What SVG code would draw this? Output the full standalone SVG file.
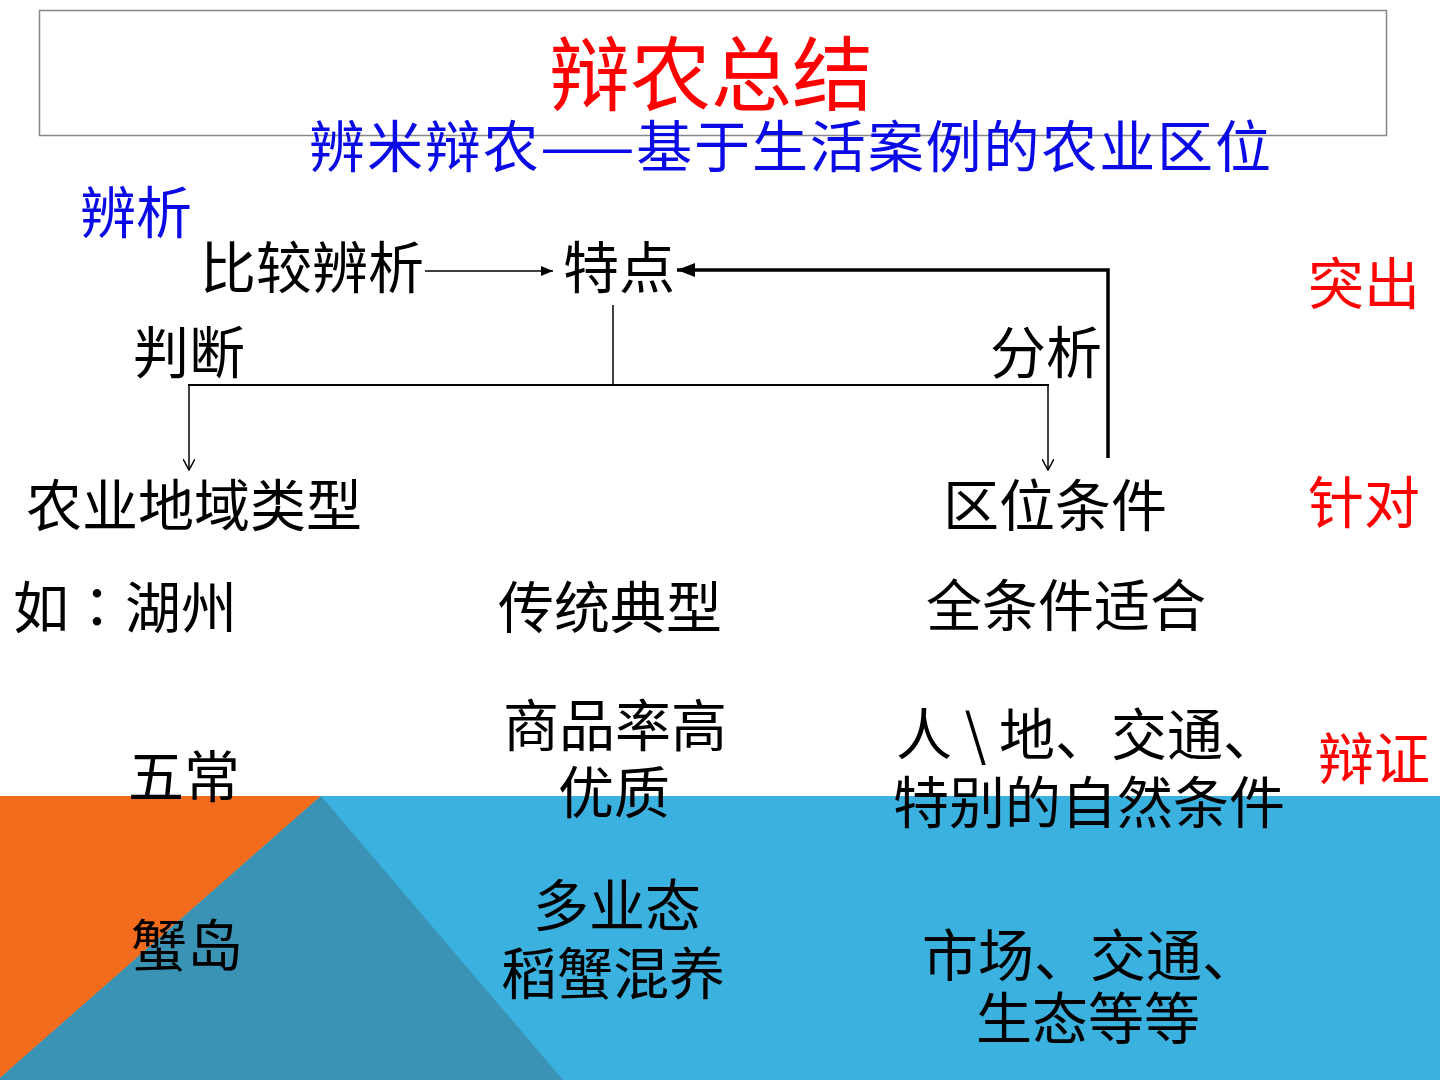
<svg xmlns="http://www.w3.org/2000/svg" width="1440" height="1080" viewBox="0 0 1440 1080">
<style>
text{font-family:"Noto Sans CJK SC","Noto Sans",sans-serif;font-size:56px;fill:#000}
.red{fill:#ff0000}
.blue{fill:#0a0ae6}
.thin{stroke:#000;stroke-width:1.5;fill:none}
.mid{stroke:#000;stroke-width:2.2;fill:none}
.thick{stroke:#000;stroke-width:3.5;fill:none}
.jp{font-family:"Noto Sans CJK JP",sans-serif}
</style>
<defs>
<marker id="fill" markerWidth="12" markerHeight="10" refX="12" refY="5" orient="auto" markerUnits="userSpaceOnUse">
<path d="M0,0 L12,5 L0,10 Z" fill="#000"/>
</marker>
<marker id="big" markerWidth="18" markerHeight="14" refX="18" refY="7" orient="auto" markerUnits="userSpaceOnUse">
<path d="M0,0 L18,7 L0,14 Z" fill="#000"/>
</marker>
<marker id="open" markerWidth="12" markerHeight="12" refX="11" refY="6" orient="auto" markerUnits="userSpaceOnUse">
<path d="M0,0 L11,6 L0,12" fill="none" stroke="#000" stroke-width="1.5"/>
</marker>
</defs>
<rect width="1440" height="1080" fill="#fff"/>
<g id="background">
<rect x="0" y="796" width="1440" height="284" fill="#3bb1df"/>
<polygon points="0,796 321,796 0,1078" fill="#f36b1c"/>
<polygon points="321,796 563,1080 0,1080 0,1078" fill="#3a93b4"/>
</g>
<g id="title-box">
<rect x="39.5" y="10.5" width="1347" height="125" fill="none" stroke="#888" stroke-width="1.5"/>
<text x="549" y="104" class="red" style="font-size:81px" textLength="324" lengthAdjust="spacing">辩农总结</text>
</g>
<g id="subtitle"><text x="309" y="167" class="blue" textLength="962" lengthAdjust="spacing">辨米辩农——基于生活案例的农业区位</text></g>
<g id="connectors">
<line x1="425" y1="271" x2="553" y2="271" class="thin" marker-end="url(#fill)"/>
<polyline points="1108,458 1108,270 677,270" class="thick" marker-end="url(#big)"/>
<line x1="613" y1="305" x2="613" y2="385" class="thin"/>
<line x1="188" y1="385" x2="1049" y2="385" class="mid"/>
<line x1="189" y1="385" x2="189" y2="470" class="thin" marker-end="url(#open)"/>
<line x1="1048" y1="385" x2="1048" y2="470" class="thin" marker-end="url(#open)"/>
</g>
<g id="node-bianxi"><text x="80" y="233" class="blue">辨析</text></g>
<g id="node-bijiao"><text x="200" y="288">比较辨析</text></g>
<g id="node-tedian"><text x="563" y="288">特点</text></g>
<g id="node-panduan"><text x="133" y="373">判断</text></g>
<g id="node-fenxi"><text x="990" y="373">分析</text></g>
<g id="node-nongye"><text x="26" y="526">农业地域类型</text></g>
<g id="node-quwei"><text x="943" y="526">区位条件</text></g>
<g id="label-tuchu"><text x="1308" y="304" class="red">突出</text></g>
<g id="label-zhendui"><text x="1308" y="523" class="red">针对</text></g>
<g id="label-bianzheng"><text x="1318" y="779" class="red">辩证</text></g>
<g id="row-huzhou">
<text x="13" y="628">如<tspan class="jp">：</tspan>湖州</text>
<text x="498" y="628">传统典型</text>
<text x="926" y="626">全条件适合</text>
</g>
<g id="row-wuchang">
<text x="128" y="797">五常</text>
<text x="503" y="746">商品率高</text>
<text x="558" y="813">优质</text>
<text x="896" y="755">人 \ 地、交通、</text>
<text x="893" y="823">特别的自然条件</text>
</g>
<g id="row-xiedao">
<text x="131" y="966">蟹岛</text>
<text x="533" y="926">多业态</text>
<text x="501" y="994">稻蟹混养</text>
<text x="922" y="976">市场、交通、</text>
<text x="976" y="1039">生态等等</text>
</g>
</svg>
